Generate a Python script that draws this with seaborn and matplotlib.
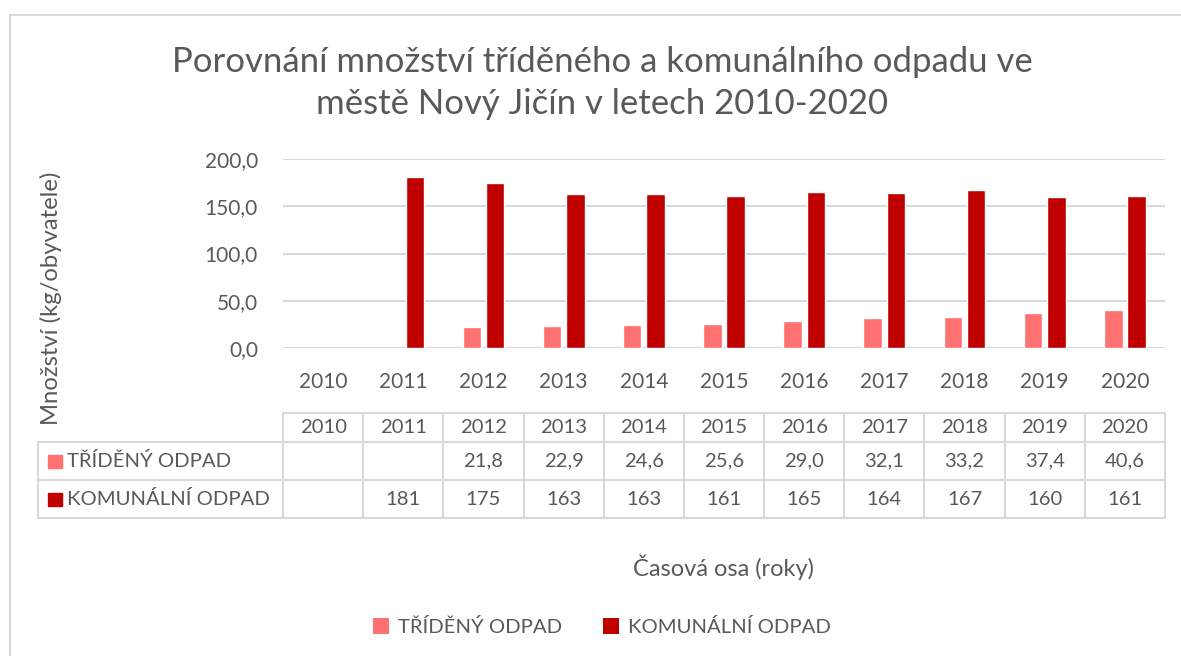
import matplotlib
matplotlib.use("Agg")
import matplotlib.pyplot as plt
from matplotlib.patches import Patch, Rectangle
from matplotlib.lines import Line2D
import seaborn as sns
import pandas as pd
import numpy as np

# data
years = ['2010', '2011', '2012', '2013', '2014', '2015', '2016', '2017', '2018', '2019', '2020']
tridene = [np.nan, np.nan, 21.8, 22.9, 24.6, 25.6, 29.0, 32.1, 33.2, 37.4, 40.6]
komunalni = [np.nan, 181, 175, 163, 163, 161, 165, 164, 167, 160, 161]
series_names = ['TŘÍDĚNÝ ODPAD', 'KOMUNÁLNÍ ODPAD']
colors = ['#FF7171', '#C00000']

title = 'Porovnání množství tříděného a komunálního odpadu ve\nměstě Nový Jičín v letech 2010-2020'
ylabel = 'Množství (kg/obyvatele)'
xlabel = 'Časová osa (roky)'
text_col = '#595959'
grid_col = '#D9D9D9'

sns.set_theme(style='white')
plt.rcParams['font.family'] = ['Lato', 'DejaVu Sans']

# long format for seaborn, empty years dropped (order keeps them on the axis)
df = pd.DataFrame({
    'rok': years * 2,
    'typ': [series_names[0]] * len(years) + [series_names[1]] * len(years),
    'hodnota': tridene + komunalni,
}).dropna()

W, H = 1181, 656
fig = plt.figure(figsize=(W / 100, H / 100), dpi=100)
ax = fig.add_axes([283 / W, 1 - 348 / H, 882 / W, 189 / H])

sns.barplot(data=df, x='rok', y='hodnota', hue='typ', order=years, hue_order=series_names,
            palette=colors, saturation=1, width=0.58, gap=0.2, edgecolor='white',
            linewidth=1, legend=False, ax=ax)

ax.set_ylim(0, 200)
ax.set_xlim(-0.5, len(years) - 0.5)
ax.set_yticks([0, 50, 100, 150, 200])
ax.set_yticklabels([f'{v:.1f}'.replace('.', ',') for v in [0, 50, 100, 150, 200]])
ax.yaxis.grid(True, color=grid_col, linewidth=1.5)
ax.set_axisbelow(True)
for s in ax.spines.values():
    s.set_visible(False)
ax.tick_params(axis='both', length=0, colors=text_col, labelsize=15)
ax.tick_params(axis='y', pad=18)
ax.tick_params(axis='x', pad=17)

ax.set_ylabel(ylabel, fontsize=17.2, color=text_col)
ax.yaxis.set_label_coords(-0.2506, 0.2646)
ax.set_xlabel(xlabel, fontsize=17, color=text_col)
ax.xaxis.set_label_coords(0.499, -1.095)

# data table under the chart
def fmt(v, dec):
    if np.isnan(v):
        return ''
    return f'{v:.{dec}f}'.replace('.', ',')

cell_text = [[series_names[0]] + [fmt(v, 1) for v in tridene],
             [series_names[1]] + [fmt(v, 0) for v in komunalni]]
total_w = 1127
col_w = [245 / total_w] + [882 / 11 / total_w] * len(years)
tab = ax.table(cellText=cell_text, colLabels=[''] + years, colWidths=col_w,
               cellLoc='center', bbox=[-245 / 882, -0.8995, 1127 / 882, 0.5556])
tab.auto_set_font_size(False)
tab.set_fontsize(14.6)
for (r, c), cell in tab.get_celld().items():
    cell.set_edgecolor(grid_col)
    cell.set_linewidth(1.5)
    cell.get_text().set_color(text_col)
    cell.set_height(29 if r == 0 else 38)
    if c == 0:
        cell.get_text().set_ha('left')
        cell.PAD = 0.118
tab[(0, 0)].visible_edges = ''

# colour keys in the table row labels
for i, col in enumerate(colors):
    yc = 461 + i * 38
    fig.patches.append(Rectangle((48 / W, 1 - (yc + 7) / H), 14 / W, 13 / H,
                                 transform=fig.transFigure, color=col, figure=fig))

fig.text(602 / W, 1 - 83 / H, title, ha='center', va='center', fontsize=25,
         color=text_col, linespacing=1.42)

handles = [Patch(facecolor=c, edgecolor='none') for c in colors]
fig.legend(handles, series_names, loc='center', bbox_to_anchor=(602 / W, 1 - 627 / H),
           ncol=2, frameon=False, fontsize=14.6, labelcolor=text_col,
           handlelength=0.8, handleheight=0.8, handletextpad=0.45, columnspacing=2.0)

# chart-area border (top and left visible)
fig.add_artist(Line2D([10 / W, 10 / W], [0, 1 - 15 / H], transform=fig.transFigure,
                      color=grid_col, linewidth=1.5))
fig.add_artist(Line2D([10 / W, 1], [1 - 15 / H, 1 - 15 / H], transform=fig.transFigure,
                      color=grid_col, linewidth=1.5))

fig.savefig('out.png', dpi=100)
